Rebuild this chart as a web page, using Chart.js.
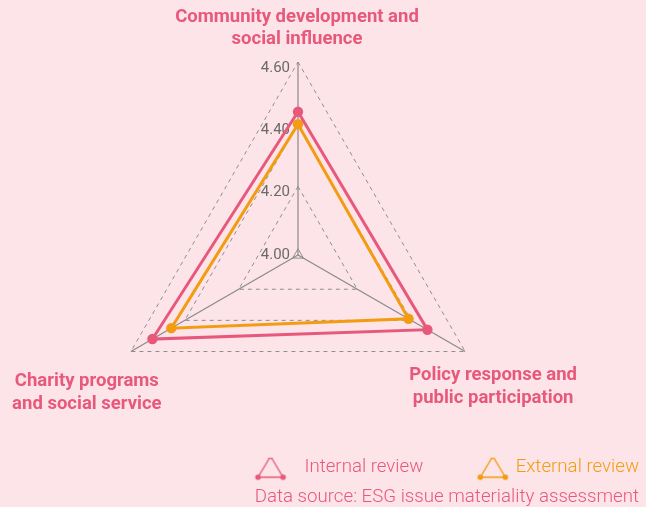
<!DOCTYPE html>
<html>
<head>
<meta charset="utf-8">
<script src="https://cdn.jsdelivr.net/npm/chart.js@4/dist/chart.umd.min.js"></script>
<style>
  html, body { margin: 0; padding: 0; background: #fce4e8; }
</style>
</head>
<body>
<canvas id="radar" width="646" height="507"></canvas>
<script>
// data
const categories = [
  ['Community development and', 'social influence'],
  ['Policy response and', 'public participation'],
  ['Charity programs', 'and social service']
];
const seriesNames = ['Internal review', 'External review'];
const internalReview = [4.44, 4.46, 4.52];
const externalReview = [4.40, 4.39, 4.45];
const tickValues = [4.00, 4.20, 4.40, 4.60];
const tickLabels = ['4.00', '4.20', '4.40', '4.60'];
const sourceNote = 'Data source: ESG issue materiality assessment';

// styling / layout
const PINK = '#e8587a';
const ORANGE = '#f39c12';
const CENTER = { x: 298, y: 255, r: 193 };
// where each category label sits relative to its outer vertex (first line centre)
const labelOffsets = [{ dx: -1, dy: -45 }, { dx: 28, dy: 24 }, { dx: -44, dy: 30 }];
const iconShift = [17, 28];

function makeIcon(color, shift) {
    // legend glyph: outlined triangle with dots on the corners
    const c = document.createElement('canvas');
    c.width = 96;
    c.height = 28;
    const g = c.getContext('2d');
    const cx = 48 + shift;
    const pts = [[cx, 3], [cx - 12.5, 24], [cx + 12.5, 24]];
    g.strokeStyle = color;
    g.lineWidth = 1.4;
    g.beginPath();
    g.moveTo(pts[0][0], pts[0][1]);
    g.lineTo(pts[1][0], pts[1][1]);
    g.lineTo(pts[2][0], pts[2][1]);
    g.closePath();
    g.stroke();
    g.fillStyle = color;
    pts.forEach(p => {
        g.beginPath();
        g.arc(p[0], p[1], 2.8, 0, Math.PI * 2);
        g.fill();
    });
    return c;
}

const radarText = {
    id: 'radarText',
    beforeDatasetsDraw(chart) {
        const s = chart.scales.r;
        const ctx = chart.ctx;
        ctx.save();
        // tick labels, left of the vertical axis
        ctx.font = '15px Roboto';
        ctx.fillStyle = '#6a6a6a';
        ctx.textAlign = 'right';
        ctx.textBaseline = 'middle';
        tickValues.forEach((v, i) => {
            const p = s.getPointPosition(0, s.getDistanceFromCenterForValue(v));
            ctx.fillText(tickLabels[i], p.x - 8, p.y + 6);
        });
        // category labels
        ctx.font = 'bold 18.5px Roboto';
        ctx.fillStyle = PINK;
        ctx.textAlign = 'center';
        chart.data.labels.forEach((lines, i) => {
            const p = s.getPointPosition(i, s.drawingArea);
            lines.forEach((line, j) => {
                ctx.fillText(line, p.x + labelOffsets[i].dx, p.y + labelOffsets[i].dy + j * 22.5);
            });
        });
        ctx.restore();
    }
};

const ctx = document.getElementById('radar').getContext('2d');
const chart = new Chart(ctx, {
    type: 'radar',
    data: {
        labels: categories,
        datasets: [
            {
                label: seriesNames[0],
                data: internalReview,
                borderColor: PINK,
                backgroundColor: PINK,
                pointBackgroundColor: PINK,
                borderWidth: 3,
                pointRadius: 5.2,
                pointBorderWidth: 0,
                fill: false
            },
            {
                label: seriesNames[1],
                data: externalReview,
                borderColor: ORANGE,
                backgroundColor: ORANGE,
                pointBackgroundColor: ORANGE,
                borderWidth: 3,
                pointRadius: 5.2,
                pointBorderWidth: 0,
                fill: false
            }
        ]
    },
    options: {
        responsive: false,
        animation: false,
        layout: { padding: { right: 7, bottom: -2 } },
        scales: {
            r: {
                min: 3.98,
                max: 4.6,
                afterBuildTicks: s => {
                    s.ticks = [s.min].concat(tickValues).map(v => ({ value: v }));
                },
                afterFit: s => {
                    s.xCenter = CENTER.x;
                    s.yCenter = CENTER.y;
                    s.drawingArea = CENTER.r;
                },
                ticks: { display: false },
                pointLabels: { display: false },
                grid: { color: '#8e8e8e', lineWidth: 1 },
                border: { dash: c => (c.index === 1 ? [] : [4, 4]) },
                angleLines: { color: '#8a8a8a', lineWidth: 1.2 }
            }
        },
        plugins: {
            legend: {
                position: 'bottom',
                align: 'end',
                labels: {
                    usePointStyle: true,
                    pointStyleWidth: 83,
                    padding: 0,
                    font: { family: 'Roboto', size: 18.7, weight: 300 },
                    generateLabels: ch => ch.data.datasets.map((d, i) => ({
                        text: d.label,
                        fontColor: d.borderColor,
                        pointStyle: makeIcon(d.borderColor, iconShift[i]),
                        datasetIndex: i,
                        hidden: false,
                        lineWidth: 0,
                        strokeStyle: 'transparent',
                        fillStyle: 'transparent'
                    }))
                }
            },
            subtitle: {
                display: true,
                text: sourceNote,
                position: 'bottom',
                align: 'end',
                color: PINK,
                font: { family: 'Roboto', size: 18.7, weight: 300 },
                padding: { top: 0, bottom: 0 }
            },
            tooltip: { enabled: false }
        }
    },
    plugins: [radarText]
});
</script>
</body>
</html>
